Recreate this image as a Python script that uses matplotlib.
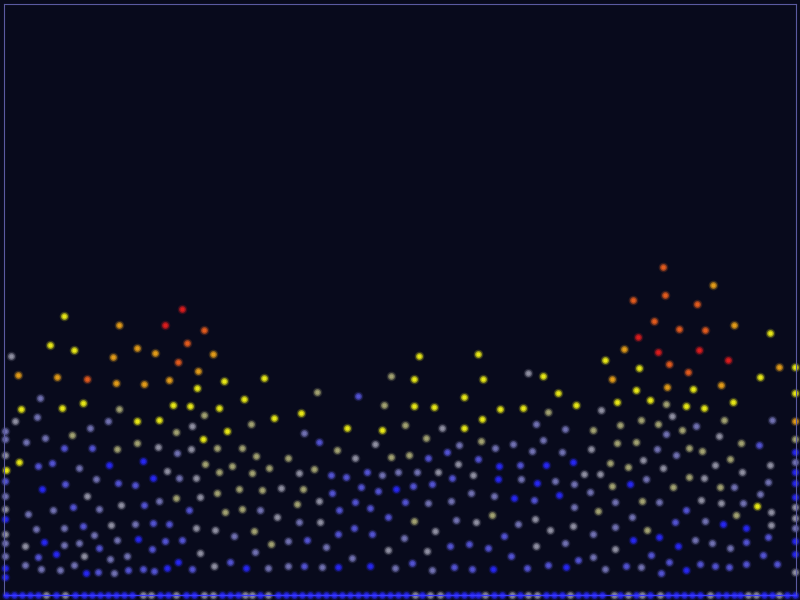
import matplotlib
matplotlib.use("Agg")
import matplotlib.pyplot as plt

# particle positions (x across, y = depth from top)
red = [(182, 309), (165, 325), (638, 337), (658, 352), (699, 350), (728, 360)]
orange = [(663, 267), (204, 330), (187, 343), (178, 362), (87, 379), (633, 300),
          (665, 295), (697, 304), (654, 321), (679, 329), (705, 330), (669, 364),
          (688, 372)]
amber = [(119, 325), (137, 348), (155, 353), (213, 354), (113, 357), (18, 375),
         (57, 377), (116, 383), (144, 384), (169, 380), (198, 371), (713, 285),
         (734, 325), (624, 349), (779, 367), (612, 379), (667, 387), (721, 385),
         (795, 421)]
yellow = [(64, 316), (50, 345), (74, 350), (197, 388), (224, 381), (264, 378),
          (244, 399), (21, 409), (62, 408), (83, 403), (173, 405), (190, 406),
          (219, 408), (137, 421), (159, 420), (227, 431), (203, 439), (19, 462),
          (6, 470), (419, 356), (478, 354), (414, 379), (483, 379), (464, 397),
          (414, 406), (434, 407), (500, 409), (523, 408), (274, 418), (301, 413),
          (482, 419), (347, 428), (382, 430), (464, 428), (770, 333), (605, 360),
          (639, 368), (795, 367), (543, 376), (636, 390), (693, 389), (760, 377),
          (558, 393), (795, 393), (576, 405), (617, 402), (650, 400), (686, 406),
          (704, 408), (733, 402), (757, 506)]
khaki = [(119, 409), (204, 415), (72, 435), (176, 432), (251, 424), (117, 449),
         (137, 443), (217, 448), (242, 448), (256, 456), (205, 464), (219, 472),
         (232, 466), (252, 473), (176, 498), (217, 493), (239, 489), (262, 490),
         (225, 512), (242, 509), (254, 531), (271, 544), (391, 376), (317, 392),
         (384, 405), (405, 425), (337, 450), (426, 438), (481, 441), (288, 458),
         (391, 457), (409, 455), (269, 468), (314, 469), (303, 489), (297, 504),
         (414, 521), (492, 515), (666, 404), (548, 412), (641, 420),
         (724, 420), (593, 430), (620, 425), (658, 424), (682, 430), (617, 443),
         (636, 442), (741, 443), (795, 439), (689, 448), (702, 451), (610, 463),
         (730, 459), (628, 467), (612, 486), (689, 477), (720, 487), (642, 501),
         (673, 487), (598, 511), (736, 515), (647, 530)]
gray = [(11, 356), (15, 421), (192, 426), (158, 447), (191, 449), (5, 455),
        (167, 471), (196, 478), (87, 496), (121, 505), (200, 497),
        (5, 509), (111, 525), (196, 528), (215, 530), (5, 534), (25, 546),
        (84, 556), (200, 553), (214, 566), (528, 373), (442, 428), (375, 444),
        (355, 458), (438, 472), (458, 464), (281, 488), (473, 475), (299, 473),
        (319, 501), (277, 517), (320, 522), (476, 522), (435, 531),
        (388, 550), (427, 551), (601, 410), (672, 416), (719, 436),
        (591, 449), (643, 460), (715, 465), (770, 465), (584, 474), (600, 474),
        (663, 468), (742, 472), (704, 478), (701, 500), (721, 503), (771, 512),
        (795, 507), (535, 519), (550, 530), (573, 526), (771, 525), (795, 518),
        (536, 546), (615, 549), (795, 572)]
slate = [(40, 398), (37, 417), (108, 421), (5, 431), (5, 439), (26, 442),
         (45, 438), (90, 428), (177, 453), (79, 468), (179, 478), (96, 479),
         (5, 496), (159, 501), (28, 514), (53, 510), (99, 509), (260, 510),
         (36, 529), (64, 528), (135, 524), (234, 536), (5, 543), (64, 545),
         (79, 543), (94, 535), (117, 540), (5, 556), (110, 559), (127, 556),
         (255, 552), (25, 565), (41, 569), (60, 570), (74, 565), (114, 573),
         (268, 568), (304, 433), (459, 445), (495, 448), (513, 444),
         (532, 451), (382, 475), (398, 472), (417, 472), (521, 479), (428, 503),
         (451, 501), (471, 493), (494, 496), (299, 522), (456, 520), (518, 524),
         (288, 541), (326, 547), (404, 538), (288, 566), (322, 567),
         (352, 558), (395, 568), (432, 570), (772, 420), (536, 424), (565, 429),
         (696, 426), (666, 434), (543, 440), (562, 452), (657, 449), (676, 455),
         (795, 462), (555, 481), (574, 484), (646, 479), (734, 487), (768, 482),
         (590, 492), (615, 502), (659, 502), (743, 503), (760, 494), (574, 507),
         (632, 517), (705, 521), (593, 534), (615, 527), (795, 528), (565, 543),
         (695, 540), (712, 543), (730, 548), (593, 557), (605, 569), (641, 567)]
periwinkle = [(64, 448), (92, 448), (38, 466), (52, 463), (5, 481), (65, 484),
              (118, 483), (135, 485), (144, 505), (73, 507), (189, 510), (83, 526),
              (153, 523), (169, 524), (165, 541), (182, 540), (38, 557), (99, 548),
              (152, 549), (98, 572), (128, 570), (143, 569), (154, 571), (192, 569),
              (230, 562), (358, 396), (319, 442), (428, 458), (447, 452), (331, 475),
              (346, 477), (367, 472), (478, 459), (520, 465), (332, 493), (361, 487),
              (378, 491), (413, 486), (432, 484), (452, 478), (339, 510), (355, 502),
              (370, 508), (405, 502), (534, 500), (388, 517), (307, 540), (338, 534),
              (354, 528), (372, 534), (450, 546), (469, 544), (488, 548), (504, 536),
              (304, 566), (412, 563), (454, 567), (472, 569), (511, 556), (527, 568),
              (759, 445), (686, 510), (675, 522), (746, 542), (768, 537),
              (548, 565), (578, 560), (626, 566), (651, 555), (661, 573), (669, 562),
              (700, 564), (715, 566), (729, 567), (746, 564), (763, 555), (777, 564)]
blue = [(109, 465), (143, 461), (153, 478), (42, 489), (5, 519), (44, 542),
        (138, 539), (56, 554), (178, 562), (5, 568), (5, 577), (86, 573),
        (167, 568), (246, 568), (499, 466), (396, 489), (498, 479), (514, 498),
        (338, 567), (370, 566), (493, 569), (795, 452), (546, 465), (573, 462),
        (795, 472), (537, 483), (630, 484), (795, 483), (559, 495), (795, 497),
        (723, 524), (746, 528), (633, 540), (659, 537), (678, 546), (795, 541),
        (566, 567), (686, 570), (795, 554)]

# particles resting on the floor
floor_y = 595
floor_gray_x = [46, 65, 143, 151, 176, 204, 213, 245, 252, 268, 415, 430, 440,
                485, 512, 528, 537, 570, 614, 628, 642, 660, 710, 748, 756, 779]
floor_blue_x = [6, 14, 22, 30, 38, 56, 75, 84, 92, 100, 108, 116, 124, 132, 160,
                168, 186, 194, 222, 230, 238, 260, 278, 286, 294, 302, 310, 318,
                326, 334, 342, 350, 358, 366, 374, 382, 390, 398, 406, 422, 448,
                456, 464, 472, 478, 494, 502, 520, 546, 554, 562, 578, 586, 594,
                602, 620, 636, 650, 668, 676, 684, 692, 700, 718, 726, 734, 740,
                764, 772, 787, 795]

groups = [
    (blue, "#2626f0"),
    (periwinkle, "#5252d0"),
    (slate, "#7070b0"),
    (gray, "#8e8ea0"),
    (khaki, "#a0a070"),
    (yellow, "#e6e616"),
    (amber, "#e09a18"),
    (orange, "#e05a1c"),
    (red, "#d81c1c"),
]

bg = "#080a1c"
fig = plt.figure(figsize=(8, 6), dpi=100, facecolor=bg)
ax = fig.add_axes([4 / 800, 5 / 600, 792 / 800, 591 / 600], facecolor=bg)

def draw(xs, ys, c):
    # soft glow, then the body, then a bright core
    ax.scatter(xs, ys, s=48, color=c, alpha=0.22, linewidths=0, clip_on=False)
    ax.scatter(xs, ys, s=24, color=c, alpha=0.6, linewidths=0, clip_on=False)
    ax.scatter(xs, ys, s=9, color=c, alpha=1.0, linewidths=0, clip_on=False)

for pts, c in groups:
    draw([p[0] for p in pts], [p[1] for p in pts], c)

draw(floor_blue_x, [floor_y] * len(floor_blue_x), "#2626f0")
draw(floor_gray_x, [floor_y] * len(floor_gray_x), "#8e8ea0")

ax.set_xlim(4, 796)
ax.set_ylim(595, 4)
ax.set_xticks([])
ax.set_yticks([])
for side in ["top", "left", "right"]:
    ax.spines[side].set_color("#5a5aa0")
    ax.spines[side].set_linewidth(0.8)
ax.spines["bottom"].set_color("#3a3aff")
ax.spines["bottom"].set_linewidth(1.0)

fig.savefig("out.png", dpi=100, facecolor=bg)
